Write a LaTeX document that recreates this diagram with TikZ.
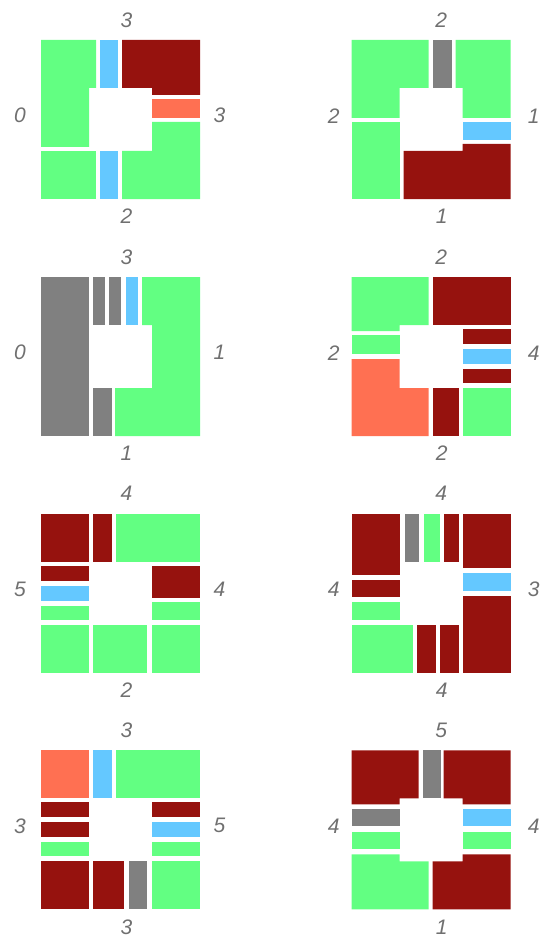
\documentclass[tikz,border=0pt]{standalone}
\usepackage{fontspec}
\setsansfont{Liberation Sans}
\usepackage{tikz}
\definecolor{tgreen}{RGB}{98,255,130}
\definecolor{tred}{RGB}{150,18,14}
\definecolor{torange}{RGB}{255,112,82}
\definecolor{tblue}{RGB}{100,200,255}
\definecolor{tgray}{RGB}{128,128,128}
\definecolor{lblgray}{RGB}{112,112,112}
\tikzset{
  lbl/.style={text=lblgray, inner sep=0pt,
    font=\sffamily\itshape\fontsize{21}{24}\selectfont}
}

\begin{document}
\begin{tikzpicture}[x=1pt, y=-1pt]
  \useasboundingbox (0,0) rectangle (541,944);

  % Tile 1
  \begin{scope}[shift={(41,40)}]
    \fill[tgreen] (0,0) -- (55,0) -- (55,48) -- (48,48) -- (48,107) -- (0,107) -- cycle;
    \fill[tblue] (59,0) rectangle (77,48);
    \fill[tred] (81,0) -- (159,0) -- (159,55) -- (111,55) -- (111,48) -- (81,48) -- cycle;
    \fill[torange] (111,59) rectangle (159,78);
    \fill[tgreen] (111,82) -- (159,82) -- (159,159) -- (81,159) -- (81,111) -- (111,111) -- cycle;
    \fill[tblue] (59,111) rectangle (77,159);
    \fill[tgreen] (0,111) rectangle (55,159);
    \node[lbl] (t1n) at (85.5,-20) {3};
    \node[lbl] (t1w) at (-21,75.5) {0};
    \node[lbl] (t1e) at (178.5,75.5) {3};
    \node[lbl] (t1s) at (85.5,176.5) {2};
  \end{scope}

  % Tile 2
  \begin{scope}[shift={(351.7,40)}]
    \fill[tgreen] (0,0) -- (77,0) -- (77,48) -- (48,48) -- (48,78) -- (0,78) -- cycle;
    \fill[tgray] (81,0) rectangle (100,48);
    \fill[tgreen] (104,0) -- (159,0) -- (159,78) -- (111,78) -- (111,48) -- (104,48) -- cycle;
    \fill[tblue] (111,82) rectangle (159,100);
    \fill[tred] (52,111) -- (111,111) -- (111,104) -- (159,104) -- (159,159) -- (52,159) -- cycle;
    \fill[tgreen] (0,82) rectangle (48,159);
    \node[lbl] (t2n) at (89.5,-20) {2};
    \node[lbl] (t2w) at (-18,76) {2};
    \node[lbl] (t2e) at (182,76) {1};
    \node[lbl] (t2s) at (90,176.5) {1};
  \end{scope}

  % Tile 3
  \begin{scope}[shift={(41,277)}]
    \fill[tgray] (0,0) rectangle (48,159);
    \fill[tgray] (52,0) rectangle (64,48);
    \fill[tgray] (68,0) rectangle (80,48);
    \fill[tblue] (85,0) rectangle (97,48);
    \fill[tgreen] (101,0) -- (159,0) -- (159,159) -- (74,159) -- (74,111) -- (111,111) -- (111,48) -- (101,48) -- cycle;
    \fill[tgray] (52,111) rectangle (71,159);
    \node[lbl] (t3n) at (85.5,-20) {3};
    \node[lbl] (t3w) at (-21,75.5) {0};
    \node[lbl] (t3e) at (178.5,75.5) {1};
    \node[lbl] (t3s) at (85.5,176.5) {1};
  \end{scope}

  % Tile 4
  \begin{scope}[shift={(351.7,277)}]
    \fill[tgreen] (0,0) -- (77,0) -- (77,48) -- (48,48) -- (48,54) -- (0,54) -- cycle;
    \fill[tgreen] (0,58) rectangle (48,77);
    \fill[torange] (0,82) -- (48,82) -- (48,111) -- (77,111) -- (77,159) -- (0,159) -- cycle;
    \fill[tred] (81,0) rectangle (159,48);
    \fill[tred] (111,52) rectangle (159,67);
    \fill[tblue] (111,72) rectangle (159,87);
    \fill[tred] (111,92) rectangle (159,106);
    \fill[tgreen] (111,111) rectangle (159,159);
    \fill[tred] (81,111) rectangle (107,159);
    \node[lbl] (t4n) at (89.5,-20) {2};
    \node[lbl] (t4w) at (-18,76) {2};
    \node[lbl] (t4e) at (182,76) {4};
    \node[lbl] (t4s) at (90,176.5) {2};
  \end{scope}

  % Tile 5
  \begin{scope}[shift={(41,513.7)}]
    \fill[tred] (0,0) rectangle (48,48);
    \fill[tred] (52,0) rectangle (71,48);
    \fill[tgreen] (75,0) rectangle (159,48);
    \fill[tred] (0,52) rectangle (48,67);
    \fill[tblue] (0,72) rectangle (48,87);
    \fill[tgreen] (0,92) rectangle (48,106);
    \fill[tred] (111,52) rectangle (159,84);
    \fill[tgreen] (111,88) rectangle (159,106);
    \fill[tgreen] (0,111) rectangle (48,159);
    \fill[tgreen] (52,111) rectangle (106,159);
    \fill[tgreen] (111,111) rectangle (159,159);
    \node[lbl] (t5n) at (85.5,-20) {4};
    \node[lbl] (t5w) at (-21,75.5) {5};
    \node[lbl] (t5e) at (178.5,75.5) {4};
    \node[lbl] (t5s) at (85.5,176.5) {2};
  \end{scope}

  % Tile 6
  \begin{scope}[shift={(351.7,513.7)}]
    \fill[tred] (0,0) rectangle (48,61);
    \fill[tgray] (53,0) rectangle (67,48);
    \fill[tgreen] (72,0) rectangle (88,48);
    \fill[tred] (92,0) rectangle (107,48);
    \fill[tred] (111,0) rectangle (159,54);
    \fill[tblue] (111,59) rectangle (159,77);
    \fill[tred] (111,82) rectangle (159,159);
    \fill[tred] (0,66) rectangle (48,83);
    \fill[tgreen] (0,88) rectangle (48,106);
    \fill[tgreen] (0,111) rectangle (61,159);
    \fill[tred] (65,111) rectangle (84,159);
    \fill[tred] (88,111) rectangle (107,159);
    \node[lbl] (t6n) at (89.5,-20) {4};
    \node[lbl] (t6w) at (-18,76) {4};
    \node[lbl] (t6e) at (182,76) {3};
    \node[lbl] (t6s) at (90,176.5) {4};
  \end{scope}

  % Tile 7
  \begin{scope}[shift={(41,750.3)}]
    \fill[torange] (0,0) rectangle (48,48);
    \fill[tblue] (52,0) rectangle (71,48);
    \fill[tgreen] (75,0) rectangle (159,48);
    \fill[tred] (0,52) rectangle (48,67);
    \fill[tred] (0,72) rectangle (48,87);
    \fill[tgreen] (0,92) rectangle (48,106);
    \fill[tred] (111,52) rectangle (159,67);
    \fill[tblue] (111,72) rectangle (159,87);
    \fill[tgreen] (111,92) rectangle (159,106);
    \fill[tred] (0,111) rectangle (48,159);
    \fill[tred] (52,111) rectangle (83,159);
    \fill[tgray] (88,111) rectangle (106,159);
    \fill[tgreen] (111,111) rectangle (159,159);
    \node[lbl] (t7n) at (85.5,-20) {3};
    \node[lbl] (t7w) at (-21,75.5) {3};
    \node[lbl] (t7e) at (178.5,75.5) {5};
    \node[lbl] (t7s) at (85.5,176.5) {3};
  \end{scope}

  % Tile 8
  \begin{scope}[shift={(351.7,750.3)}]
    \fill[tred] (0,0) -- (67,0) -- (67,48) -- (48,48) -- (48,54) -- (0,54) -- cycle;
    \fill[tgray] (71,0) rectangle (89,48);
    \fill[tred] (92,0) -- (159,0) -- (159,54) -- (111,54) -- (111,48) -- (92,48) -- cycle;
    \fill[tgray] (0,59) rectangle (48,76);
    \fill[tgreen] (0,82) rectangle (48,99);
    \fill[tblue] (111,59) rectangle (159,76);
    \fill[tgreen] (111,82) rectangle (159,99);
    \fill[tgreen] (0,104) -- (48,104) -- (48,111) -- (77,111) -- (77,159) -- (0,159) -- cycle;
    \fill[tred] (81,111) -- (111,111) -- (111,104) -- (159,104) -- (159,159) -- (81,159) -- cycle;
    \node[lbl] (t8n) at (89.5,-20) {5};
    \node[lbl] (t8w) at (-18,76) {4};
    \node[lbl] (t8e) at (182,76) {4};
    \node[lbl] (t8s) at (90,176.5) {1};
  \end{scope}
\end{tikzpicture}
\end{document}
